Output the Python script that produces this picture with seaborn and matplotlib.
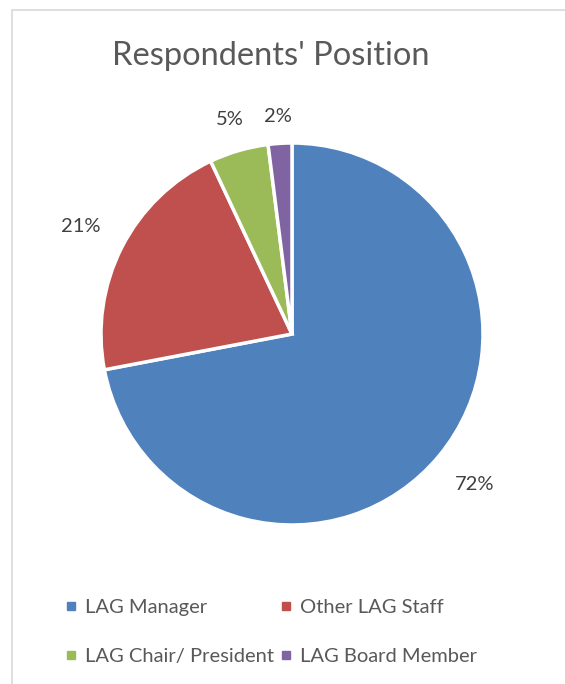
import matplotlib
matplotlib.use("Agg")
import numpy as np
import matplotlib.pyplot as plt
from matplotlib.lines import Line2D
from matplotlib.patches import Rectangle
import seaborn as sns

categories = ["LAG Manager", "Other LAG Staff", "LAG Chair/ President", "LAG Board Member"]
shares = [72, 21, 5, 2]
colors = ["#4F81BD", "#C0504D", "#9BBB59", "#8064A2"]

sns.set_theme(style="white")
plt.rcParams["font.family"] = ["Lato", "DejaVu Sans"]

fig = plt.figure(figsize=(5.65, 6.84), dpi=100)

# chart frame (cut off on right / bottom like the reference)
fig.patches.append(Rectangle((12 / 565, -0.1), 1.2, 1 - 10 / 684 + 0.1,
                             transform=fig.transFigure, fill=False,
                             edgecolor="#D9D9D9", linewidth=1.2))

ax = fig.add_axes([(292 - 191) / 565, (684 - 525) / 684, 382 / 565, 382 / 684])
palette = sns.color_palette(colors)
wedges, texts, autotexts = ax.pie(
    shares,
    colors=palette,
    startangle=90,
    counterclock=False,
    autopct="%d%%",
    pctdistance=1.2,
    wedgeprops=dict(edgecolor="white", linewidth=2.5),
    textprops=dict(color="#404040", fontsize=14.5),
)
# excel "best fit" puts the small labels a bit closer to the pie
label_dist = [1.24, 1.24, 1.17, 1.14]
for w, t, d in zip(wedges, autotexts, label_dist):
    ang = np.deg2rad((w.theta1 + w.theta2) / 2)
    t.set_position((d * np.cos(ang), d * np.sin(ang)))
ax.set_xlim(-1, 1)
ax.set_ylim(-1, 1)

fig.text(271 / 565, 1 - 56 / 684, "Respondents' Position", ha="center", va="center",
         fontsize=23.5, color="#595959")

# legend fills column-wise, so order for row-major look
order = [0, 2, 1, 3]
handles = [Line2D([0], [0], marker="s", linestyle="none", markersize=6,
                  markerfacecolor=colors[i], markeredgecolor=colors[i]) for i in order]
fig.legend(handles, [categories[i] for i in order], ncol=2, loc="center",
           bbox_to_anchor=(271 / 565, 1 - 632 / 684), frameon=False,
           fontsize=14.5, labelcolor="#595959", handlelength=0.6,
           handletextpad=0.4, columnspacing=0.3, labelspacing=1.55)

fig.savefig("out.png", dpi=100, facecolor="white")
